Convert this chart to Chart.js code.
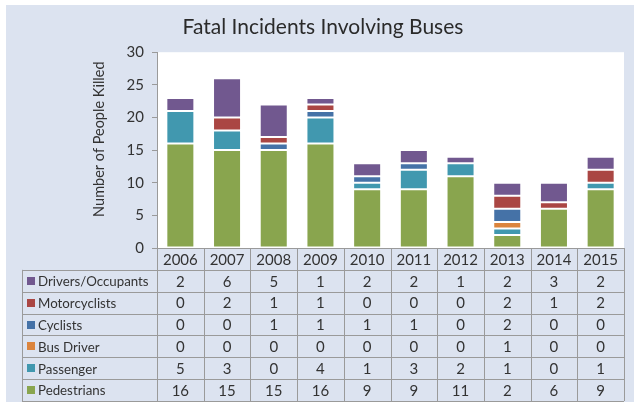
<!DOCTYPE html>
<html>
<head>
<meta charset="utf-8">
<script src="https://cdn.jsdelivr.net/npm/chart.js@4.4.1/dist/chart.umd.min.js"></script>
<style>
  html, body { margin: 0; padding: 0; background: #fff; }
  #grafico { display: block; }
</style>
</head>
<body>
<canvas id="grafico" width="634" height="402"></canvas>
<script>
// dados do grafico
var anos = ['2006', '2007', '2008', '2009', '2010', '2011', '2012', '2013', '2014', '2015'];
var pedestres = [16, 15, 15, 16, 9, 9, 11, 2, 6, 9];
var passageiros = [5, 3, 0, 4, 1, 3, 2, 1, 0, 1];
var motorista = [0, 0, 0, 0, 0, 0, 0, 1, 0, 0];
var ciclistas = [0, 0, 1, 1, 1, 1, 0, 2, 0, 0];
var motociclistas = [0, 2, 1, 1, 0, 0, 0, 2, 1, 2];
var condutores = [2, 6, 5, 1, 2, 2, 1, 2, 3, 2];
var ticksY = [0, 5, 10, 15, 20, 25, 30];
var tituloY = 'Number of People Killed';

var fonte = 'Lato, "Open Sans", sans-serif';
var corTexto = '#333';
var corLinha = '#9a9a9a';
var corPainel = '#dce3f0';

function serie(nome, cor, valores) {
    return {
        label: nome,
        data: valores,
        backgroundColor: cor,
        borderColor: 'rgba(255,255,255,0.55)',
        borderWidth: 1,
        borderSkipped: false
    };
}

var dados = {
    labels: anos,
    datasets: [
        serie('Pedestrians', '#89a54e', pedestres),
        serie('Passenger', '#4198af', passageiros),
        serie('Bus Driver', '#db843d', motorista),
        serie('Cyclists', '#4572a7', ciclistas),
        serie('Motorcyclists', '#aa4643', motociclistas),
        serie('Drivers/Occupants', '#71588f', condutores)
    ]
};

// fundo azul + area branca
var fundo = {
    id: 'fundo',
    beforeDraw: function (chart) {
        var c = chart.ctx, a = chart.chartArea;
        c.save();
        c.fillStyle = '#fff';
        c.fillRect(0, 0, chart.width, chart.height);
        c.fillStyle = corPainel;
        c.fillRect(6, 5, chart.width - 6, chart.height - 5);
        c.fillStyle = '#fff';
        c.fillRect(a.left, a.top, a.right - a.left, a.bottom - a.top);
        c.restore();
    }
};

// titulo do eixo y (um pouco acima do centro, como no original)
var eixoY = {
    id: 'eixoY',
    afterDraw: function (chart) {
        var c = chart.ctx, a = chart.chartArea;
        c.save();
        c.translate(99, a.top + 87);
        c.rotate(-Math.PI / 2);
        c.fillStyle = corTexto;
        c.font = '14.5px ' + fonte;
        c.textAlign = 'center';
        c.textBaseline = 'middle';
        c.fillText(tituloY, 0, 0);
        c.restore();
    }
};

// tabela de dados embaixo do grafico
var tabela = {
    id: 'tabela',
    afterDraw: function (chart) {
        var c = chart.ctx, a = chart.chartArea, x = chart.scales.x;
        var topo = a.bottom, fim = 401, esq = 22;
        var h = (fim - topo) / 7;
        var larg = (a.right - a.left) / anos.length;
        var linhas = chart.data.datasets.slice().reverse();

        c.save();
        c.strokeStyle = corLinha;
        c.lineWidth = 1;
        c.beginPath();
        // horizontais
        c.moveTo(a.left, topo + 0.5); c.lineTo(a.right, topo + 0.5);
        for (var r = 1; r <= 7; r++) {
            var yy = Math.round(topo + r * h) + 0.5;
            c.moveTo(esq, yy); c.lineTo(a.right, yy);
        }
        // verticais
        for (var i = 0; i <= anos.length; i++) {
            var xx = Math.round(a.left + i * larg) + 0.5;
            c.moveTo(xx, topo); c.lineTo(xx, fim);
        }
        c.moveTo(esq + 0.5, topo + h); c.lineTo(esq + 0.5, fim);
        c.stroke();

        c.fillStyle = corTexto;
        c.font = '15px ' + fonte;
        c.textAlign = 'center';
        c.textBaseline = 'middle';
        anos.forEach(function (ano, i) {
            c.fillText(ano, x.getPixelForValue(i), topo + h / 2 + 1);
        });

        linhas.forEach(function (ds, r) {
            var cy = topo + (r + 1) * h + h / 2 + 1;
            c.fillStyle = ds.backgroundColor;
            c.fillRect(27, Math.round(cy - 5), 8, 8);
            c.fillStyle = corTexto;
            c.textAlign = 'left';
            c.font = '13.3px ' + fonte;
            c.fillText(ds.label, 38, cy);
            c.textAlign = 'center';
            c.font = '15px ' + fonte;
            ds.data.forEach(function (v, i) {
                c.fillText(String(v), x.getPixelForValue(i), cy);
            });
        });
        c.restore();
    }
};

var ctx = document.getElementById('grafico').getContext('2d');
window.myBar = new Chart(ctx, {
    type: 'bar',
    data: dados,
    plugins: [fundo, eixoY, tabela],
    options: {
        responsive: false,
        animation: false,
        devicePixelRatio: 1,
        maintainAspectRatio: false,
        layout: {
            padding: { left: 22, right: 10, top: 0, bottom: 154 }
        },
        datasets: {
            bar: { categoryPercentage: 1, barPercentage: 0.6 }
        },
        scales: {
            x: {
                display: false,
                stacked: true
            },
            y: {
                stacked: true,
                min: 0,
                max: 30,
                afterFit: function (s) { s.width = 135; },
                afterBuildTicks: function (s) {
                    s.ticks = ticksY.map(function (v) { return { value: v }; });
                },
                grid: {
                    drawOnChartArea: false,
                    drawTicks: true,
                    tickLength: 5,
                    color: corLinha
                },
                border: { color: corLinha },
                ticks: {
                    color: corTexto,
                    padding: 8,
                    font: { family: fonte, size: 15 }
                }
            }
        },
        plugins: {
            legend: { display: false },
            tooltip: { enabled: false },
            title: {
                display: true,
                text: 'Fatal Incidents Involving Buses',
                color: '#2a2a2a',
                font: { family: fonte, size: 21, weight: 'normal' },
                padding: { top: 15, bottom: 12 }
            }
        }
    }
});
</script>
</body>
</html>
